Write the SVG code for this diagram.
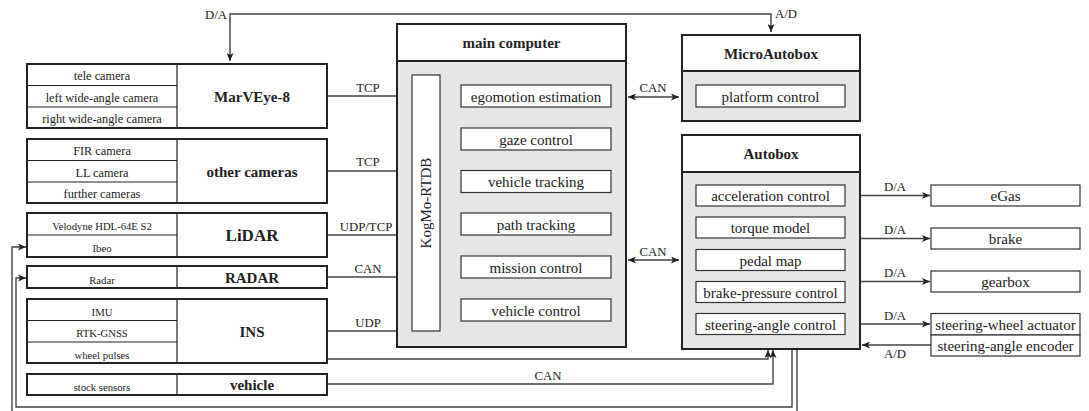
<svg xmlns="http://www.w3.org/2000/svg" width="1089" height="411" viewBox="0 0 1089 411">
<defs>
<marker id="arr" markerUnits="userSpaceOnUse" markerWidth="9" markerHeight="7" refX="8" refY="3.5" orient="auto-start-reverse"><path d="M0,0 L8,3.5 L0,7 L2,3.5 z" fill="#222"/></marker>
<marker id="arrs" markerUnits="userSpaceOnUse" markerWidth="7" markerHeight="6" refX="6" refY="3" orient="auto-start-reverse"><path d="M0,0 L6,3 L0,6 L1.5,3 z" fill="#222"/></marker>
<style>
.box{fill:#fff;stroke:#222;stroke-width:2}
.gbox{fill:#e6e6e6;stroke:#222;stroke-width:2}
.ibox{fill:#fff;stroke:#333;stroke-width:1.2}
.dv{stroke:#222;stroke-width:1.2}
.ln{fill:none;stroke:#444;stroke-width:1.4}
text{font-family:"Liberation Serif","Times New Roman",serif;fill:#222;text-anchor:middle}
.sub{font-size:12.3px}
.subs{font-size:10.7px}
.big{font-size:15px;font-weight:bold}
.mod{font-size:15px}
.lab{font-size:12.8px}
</style>
</defs>

<g id="connectors">
<path class="ln" d="M230,61 V14 H771 V32" marker-start="url(#arr)" marker-end="url(#arr)"/>
<path class="ln" d="M327,96 H411" marker-end="url(#arr)"/>
<path class="ln" d="M327,171 H411" marker-end="url(#arr)"/>
<path class="ln" d="M327,235 H411" marker-end="url(#arr)"/>
<path class="ln" d="M327,277 H411" marker-end="url(#arr)"/>
<path class="ln" d="M327,331 H411" marker-end="url(#arr)"/>
<path class="ln" d="M442,96 H459" marker-start="url(#arrs)" marker-end="url(#arrs)"/>
<path class="ln" d="M442,139 H459" marker-start="url(#arrs)" marker-end="url(#arrs)"/>
<path class="ln" d="M442,181.5 H459" marker-start="url(#arrs)" marker-end="url(#arrs)"/>
<path class="ln" d="M442,224 H459" marker-start="url(#arrs)" marker-end="url(#arrs)"/>
<path class="ln" d="M442,267 H459" marker-start="url(#arrs)" marker-end="url(#arrs)"/>
<path class="ln" d="M442,310 H459" marker-start="url(#arrs)" marker-end="url(#arrs)"/>
<path class="ln" d="M628,97 H679" marker-start="url(#arr)" marker-end="url(#arr)"/>
<path class="ln" d="M628,260 H679" marker-start="url(#arr)" marker-end="url(#arr)"/>
<path class="ln" d="M771,206 V216" marker-end="url(#arrs)"/>
<path class="ln" d="M771,238 V248" marker-end="url(#arrs)"/>
<path class="ln" d="M771,271 V280" marker-end="url(#arrs)"/>
<path class="ln" d="M861,195.5 H930" marker-end="url(#arr)"/>
<path class="ln" d="M861,238.5 H930" marker-end="url(#arr)"/>
<path class="ln" d="M861,281.5 H930" marker-end="url(#arr)"/>
<path class="ln" d="M861,324 H930" marker-end="url(#arr)"/>
<path class="ln" d="M931,345 H862" marker-end="url(#arr)"/>
<path class="ln" d="M327,359 H768 V350" marker-end="url(#arr)"/>
<path class="ln" d="M327,384 H773 V350" marker-end="url(#arr)"/>
<path class="ln" d="M792,350 V407 H16 V278 H26" marker-end="url(#arr)"/>
<path class="ln" d="M797,350 V420 H12 V247 H26" marker-end="url(#arr)"/>
<text class="lab" x="216" y="19">D/A</text>
<text class="lab" x="786" y="18">A/D</text>
<text class="lab" x="368" y="92">TCP</text>
<text class="lab" x="368" y="166">TCP</text>
<text class="lab" x="366" y="231">UDP/TCP</text>
<text class="lab" x="368" y="273">CAN</text>
<text class="lab" x="368" y="327">UDP</text>
<text class="lab" x="653" y="92">CAN</text>
<text class="lab" x="653" y="256">CAN</text>
<text class="lab" x="548" y="380">CAN</text>
<text class="lab" x="895" y="191">D/A</text>
<text class="lab" x="895" y="234">D/A</text>
<text class="lab" x="895" y="277">D/A</text>
<text class="lab" x="895" y="320">D/A</text>
<text class="lab" x="895" y="358">A/D</text>
</g>

<g id="marveye">
<rect class="box" x="27" y="64" width="300" height="64"/>
<line class="dv" x1="177" y1="64" x2="177" y2="128"/>
<line class="dv" x1="27" y1="85.5" x2="177" y2="85.5"/>
<line class="dv" x1="27" y1="107" x2="177" y2="107"/>
<text class="sub" x="102" y="80">tele camera</text>
<text class="sub" x="102" y="101.5">left wide-angle camera</text>
<text class="sub" x="102" y="123">right wide-angle camera</text>
<text class="big" x="252" y="101.5">MarVEye-8</text>
</g>

<g id="other-cameras">
<rect class="box" x="27" y="139" width="300" height="64"/>
<line class="dv" x1="177" y1="139" x2="177" y2="203"/>
<line class="dv" x1="27" y1="160.5" x2="177" y2="160.5"/>
<line class="dv" x1="27" y1="182" x2="177" y2="182"/>
<text class="sub" x="102" y="155">FIR camera</text>
<text class="sub" x="102" y="176.5">LL camera</text>
<text class="sub" x="102" y="198">further cameras</text>
<text class="big" x="252" y="176.5">other cameras</text>
</g>

<g id="lidar">
<rect class="box" x="27" y="213" width="300" height="44"/>
<line class="dv" x1="177" y1="213" x2="177" y2="257"/>
<line class="dv" x1="27" y1="235" x2="177" y2="235"/>
<text class="subs" x="102" y="230">Velodyne HDL-64E S2</text>
<text class="subs" x="102" y="251.5">Ibeo</text>
<text class="big" x="252" y="241" style="font-size:17px">LiDAR</text>
</g>

<g id="radar">
<rect class="box" x="27" y="266" width="300" height="22"/>
<line class="dv" x1="177" y1="266" x2="177" y2="288"/>
<text class="subs" x="102" y="283.5">Radar</text>
<text class="big" x="252" y="282.5">RADAR</text>
</g>

<g id="ins">
<rect class="box" x="27" y="299" width="300" height="64"/>
<line class="dv" x1="177" y1="299" x2="177" y2="363"/>
<line class="dv" x1="27" y1="320.5" x2="177" y2="320.5"/>
<line class="dv" x1="27" y1="342" x2="177" y2="342"/>
<text class="subs" x="102" y="315.5">IMU</text>
<text class="subs" x="102" y="336.5">RTK-GNSS</text>
<text class="subs" x="102" y="358.5">wheel pulses</text>
<text class="big" x="252" y="337">INS</text>
</g>

<g id="vehicle">
<rect class="box" x="27" y="374" width="300" height="21"/>
<line class="dv" x1="177" y1="374" x2="177" y2="395"/>
<text class="subs" x="102" y="390.5">stock sensors</text>
<text class="big" x="252" y="390">vehicle</text>
</g>

<g id="main-computer">
<rect class="gbox" x="397" y="24" width="229" height="323"/>
<rect class="box" x="397" y="24" width="229" height="37"/>
<text class="big" x="511.5" y="47.5">main computer</text>
<rect class="ibox" x="412" y="75" width="28" height="256"/>
<text class="mod" transform="translate(431,203) rotate(-90)">KogMo-RTDB</text>
<rect class="ibox" x="461" y="85" width="150" height="22"/>
<text class="mod" x="536" y="101.5">egomotion estimation</text>
<rect class="ibox" x="461" y="128" width="150" height="22"/>
<text class="mod" x="536" y="144.5">gaze control</text>
<rect class="ibox" x="461" y="170.5" width="150" height="22"/>
<text class="mod" x="536" y="187">vehicle tracking</text>
<rect class="ibox" x="461" y="213" width="150" height="22"/>
<text class="mod" x="536" y="229.5">path tracking</text>
<rect class="ibox" x="461" y="256" width="150" height="22"/>
<text class="mod" x="536" y="272.5">mission control</text>
<rect class="ibox" x="461" y="299" width="150" height="22"/>
<text class="mod" x="536" y="315.5">vehicle control</text>
</g>

<g id="microautobox">
<rect class="gbox" x="682" y="35" width="178" height="86"/>
<rect class="box" x="682" y="35" width="178" height="36"/>
<text class="big" x="771" y="59">MicroAutobox</text>
<rect class="ibox" x="696" y="85" width="149" height="22"/>
<text class="mod" x="770.5" y="101.5">platform control</text>
</g>

<g id="autobox">
<rect class="gbox" x="682" y="135" width="178" height="214"/>
<rect class="box" x="682" y="135" width="178" height="37"/>
<text class="big" x="771" y="159">Autobox</text>
<rect class="ibox" x="696" y="185" width="149" height="21"/>
<text class="mod" x="770.5" y="201">acceleration control</text>
<rect class="ibox" x="696" y="217" width="149" height="21"/>
<text class="mod" x="770.5" y="233">torque model</text>
<rect class="ibox" x="696" y="249.5" width="149" height="21"/>
<text class="mod" x="770.5" y="265.5">pedal map</text>
<rect class="ibox" x="696" y="281.5" width="149" height="21"/>
<text class="mod" x="770.5" y="297.5">brake-pressure control</text>
<rect class="ibox" x="696" y="313.5" width="149" height="21"/>
<text class="mod" x="770.5" y="329.5">steering-angle control</text>
</g>

<g id="egas">
<rect class="ibox" x="931" y="185" width="149" height="21"/>
<text class="mod" x="1005.5" y="201">eGas</text>
</g>
<g id="brake">
<rect class="ibox" x="931" y="228" width="149" height="21"/>
<text class="mod" x="1005.5" y="244">brake</text>
</g>
<g id="gearbox">
<rect class="ibox" x="931" y="271" width="149" height="21"/>
<text class="mod" x="1005.5" y="287">gearbox</text>
</g>
<g id="steering-wheel-actuator">
<rect class="ibox" x="931" y="313.5" width="149" height="21.5"/>
<text class="mod" x="1005.5" y="329.5">steering-wheel actuator</text>
</g>
<g id="steering-angle-encoder">
<rect class="ibox" x="931" y="335" width="149" height="21"/>
<text class="mod" x="1005.5" y="351">steering-angle encoder</text>
</g>
</svg>
